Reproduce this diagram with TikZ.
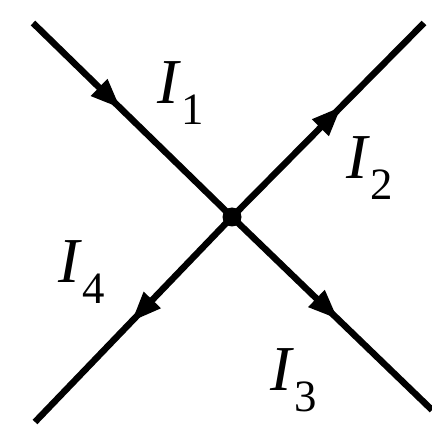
\documentclass[tikz,border=0pt]{standalone}
\usepackage{fontspec}
\setmainfont{Liberation Serif}
\usetikzlibrary{arrows.meta,decorations.markings}
\begin{document}
\begin{tikzpicture}[x=1pt,y=-1pt,
  wire/.style={line width=6.5pt},
  arrowat/.style={postaction={decorate},decoration={markings,
    mark=at position #1 with {\arrow{Triangle[length=30pt,width=22pt]}}}},
  lab/.style={font=\fontsize{64}{72}\selectfont, inner sep=0pt}]
\useasboundingbox (0,0) rectangle (432,425);
\node[circle,fill=black,inner sep=0pt,minimum size=19pt] (c) at (232,217) {};
\coordinate (tl) at (33,23);
\coordinate (tr) at (424,23);
\coordinate (bl) at (35,422);
\coordinate (br) at (432,410);
\draw[wire,arrowat=0.44] (tl) -- (c.center);
\draw[wire,arrowat=0.57] (c.center) -- (tr);
\draw[wire,arrowat=0.53] (c.center) -- (br);
\draw[wire,arrowat=0.51] (c.center) -- (bl);
\node[lab] (l1) at (181,93) {\textit{I}\textsubscript{1}};
\node[lab] (l2) at (370,168) {\textit{I}\textsubscript{2}};
\node[lab] (l3) at (294,380) {\textit{I}\textsubscript{3}};
\node[lab] (l4) at (82,272) {\textit{I}\textsubscript{4}};
\end{tikzpicture}
\end{document}
